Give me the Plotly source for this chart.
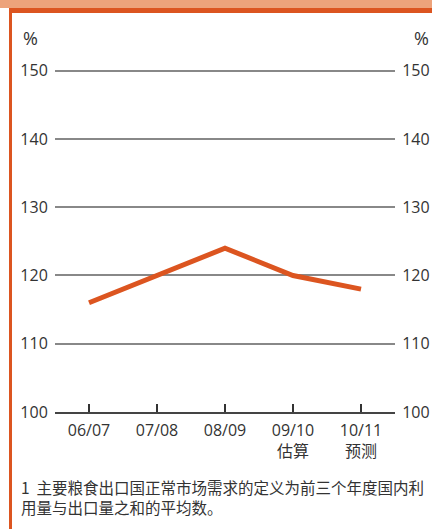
import plotly.graph_objects as go

categories = ["06/07", "07/08", "08/09", "09/10<br>估算", "10/11<br>预测"]
values = [116, 120, 124, 120, 118]
y_ticks = [100, 110, 120, 130, 140, 150]
footnote_lines = ["1  主要粮食出口国正常市场需求的定义为前三个年度国内利",
                  "用量与出口量之和的平均数。"]

ORANGE = "#DC5520"
LIGHT = "#EDA37B"
FONT = "Open Sans, Noto Sans CJK SC, sans-serif"

W, H = 432, 529
ML, MR, MT, MB = 55, 37, 68, 117

fig = go.Figure()
fig.add_trace(go.Scatter(x=categories, y=values, mode="lines",
                         line=dict(color=ORANGE, width=5), hoverinfo="skip",
                         showlegend=False))
fig.add_trace(go.Scatter(x=categories, y=values, mode="lines", yaxis="y2",
                         line=dict(color="rgba(0,0,0,0)", width=0), hoverinfo="skip",
                         showlegend=False))

axis_font = dict(family=FONT, size=16, color="#333333")
fig.update_layout(
    width=W, height=H,
    margin=dict(l=ML, r=MR, t=MT, b=MB, autoexpand=False),
    paper_bgcolor="white", plot_bgcolor="white",
    xaxis=dict(type="category", range=[-0.5, 4.5], showgrid=False,
               showline=True, linecolor="#444444", linewidth=2,
               ticks="inside", ticklen=8, tickwidth=2, tickcolor="#333333",
               tickfont=dict(family=FONT, size=16, color="#333333"),
               ticklabelstandoff=3,
               fixedrange=True, automargin=False),
    yaxis=dict(range=[100, 150.4], tickvals=y_ticks, showgrid=True,
               gridcolor="#888888", gridwidth=1.5, zeroline=False,
               ticks="outside", ticklen=3, tickcolor="rgba(0,0,0,0)",
               tickfont=axis_font, showline=False, automargin=False,
               fixedrange=True),
    yaxis2=dict(range=[100, 150.4], tickvals=y_ticks, overlaying="y", side="right",
                showgrid=False, zeroline=False, ticks="outside", ticklen=3,
                tickcolor="rgba(0,0,0,0)", tickfont=axis_font, showline=False,
                automargin=False, fixedrange=True),
    font=dict(family=FONT),
)

plot_h = H - MT - MB
plot_w = W - ML - MR
def px_x(x):
    return (x - ML) / plot_w
def px_y(y):
    return (H - MB - y) / plot_h

fig.add_shape(type="rect", xref="paper", yref="paper", x0=px_x(0), x1=px_x(W),
              y0=px_y(8), y1=px_y(0), fillcolor=LIGHT, line_width=0)
fig.add_shape(type="rect", xref="paper", yref="paper", x0=px_x(9), x1=px_x(W),
              y0=px_y(13), y1=px_y(8), fillcolor=ORANGE, line_width=0)
fig.add_shape(type="rect", xref="paper", yref="paper", x0=px_x(9), x1=px_x(12),
              y0=px_y(H), y1=px_y(8), fillcolor=ORANGE, line_width=0)

for xp in (30, 421):
    fig.add_annotation(text="%", xref="paper", yref="paper", x=px_x(xp), y=px_y(38),
                       xanchor="center", yanchor="middle",
                       showarrow=False, font=dict(family=FONT, size=18, color="#333333"))
fig.add_annotation(text="<br>".join(footnote_lines), xref="paper", yref="paper",
                   x=px_x(19), y=px_y(474),
                   xanchor="left", yanchor="top", align="left", showarrow=False,
                   font=dict(family="Noto Sans CJK SC, sans-serif", size=15.5, color="#333333"))

fig.write_html("out.html", config={"displayModeBar": False},
               post_script="document.body.style.margin='0';document.body.style.overflow='hidden';")
